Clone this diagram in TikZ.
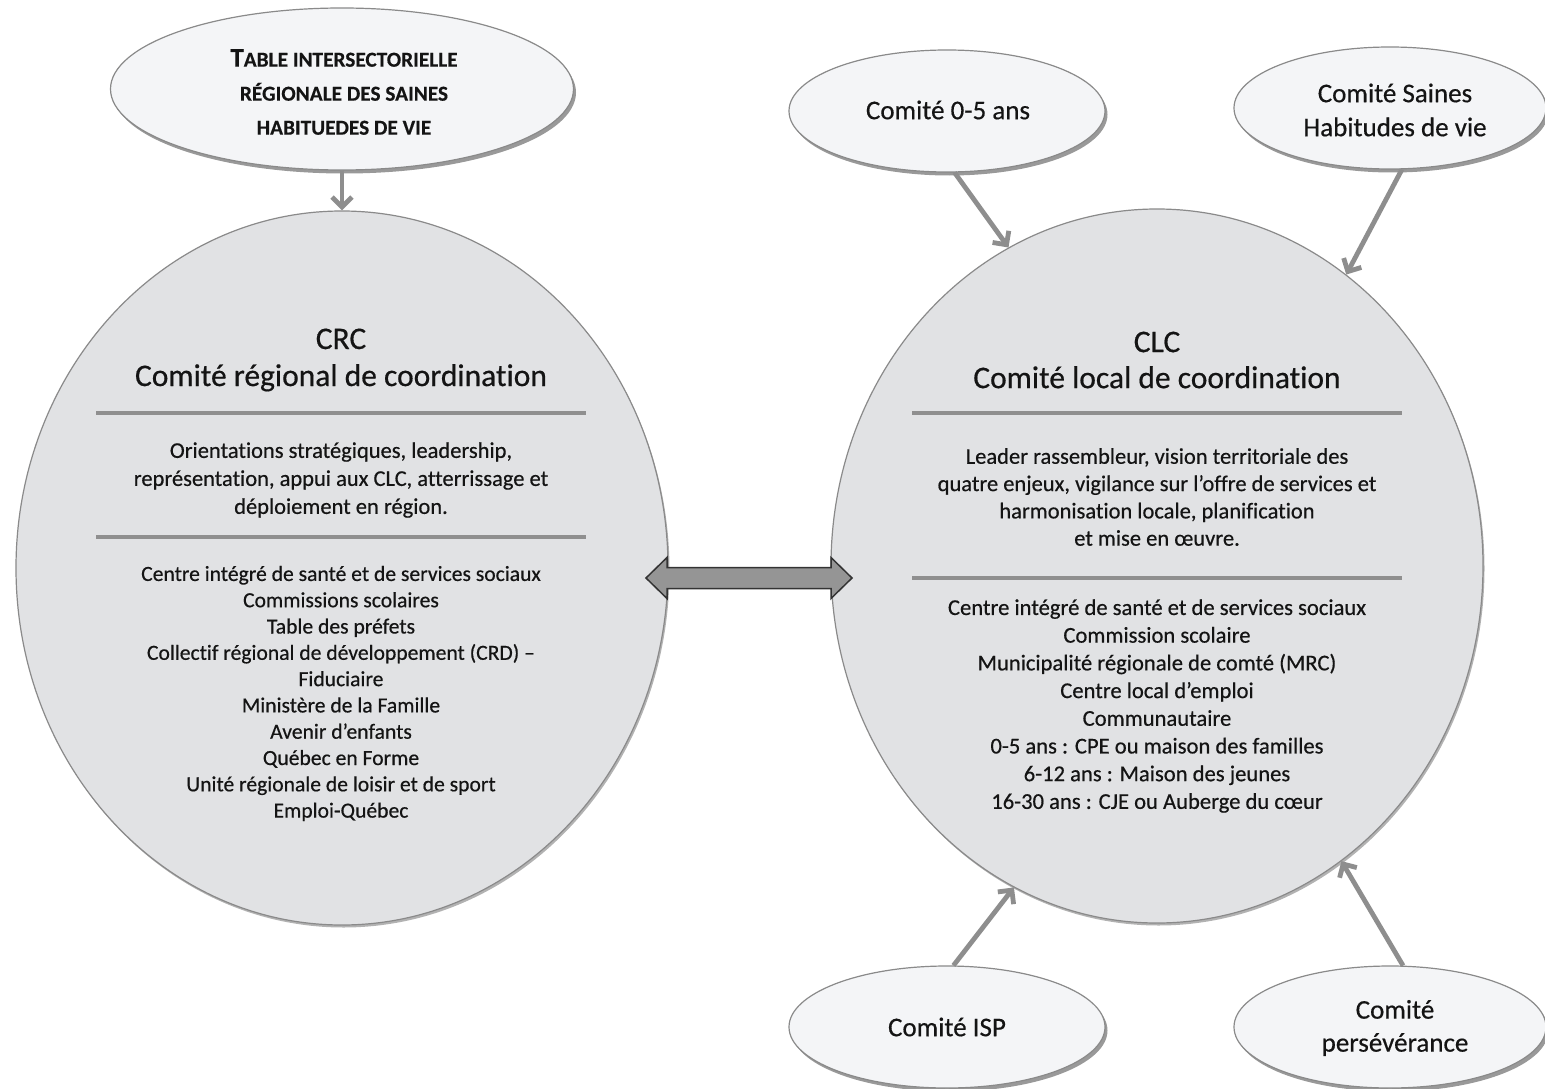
\documentclass[tikz,border=0pt]{standalone}
\usepackage{fontspec}
\setmainfont{Carlito}[Ligatures={NoCommon,NoContextual},FakeBold=0.5,BoldFeatures={FakeBold=0.3}]
\usetikzlibrary{shapes.geometric,arrows.meta,shadows}
\definecolor{bigfill}{HTML}{E1E2E4}
\definecolor{smallfill}{HTML}{F4F5F7}
\definecolor{edgecol}{HTML}{8A8A8A}
\definecolor{conncol}{HTML}{8E8E8E}
\definecolor{sepcol}{HTML}{8F8F8F}
\definecolor{txtcol}{HTML}{141414}
\definecolor{dblfill}{HTML}{959595}
\definecolor{dbledge}{HTML}{333333}
\begin{document}
\begin{tikzpicture}[x=1pt,y=-1pt,
  bigell/.style={ellipse, draw=edgecol, line width=1.2pt, fill=bigfill, inner sep=0pt,
    minimum width=652pt, minimum height=714pt,
    drop shadow={shadow xshift=1.5pt, shadow yshift=-2.5pt, opacity=0.3, fill=black}},
  smallell/.style={ellipse, draw=edgecol, line width=1.2pt, fill=smallfill, inner sep=0pt,
    minimum width=316pt, minimum height=122pt,
    drop shadow={shadow xshift=2.5pt, shadow yshift=-3.5pt, opacity=0.4, fill=black}},
  conn/.style={draw=conncol, line width=4.8pt, -{Straight Barb[length=10pt,width=20pt]}},
  sepline/.style={draw=sepcol, line width=4pt},
  txtnode/.style={text=txtcol, align=center, inner sep=0pt},
]
\fill[white] (0,0) rectangle (1545,1089);
\useasboundingbox (0,0) rectangle (1545,1089);

% big ellipses
\node[bigell] (crc) at (342,568) {};
\node[bigell] (clc) at (1157,566) {};

% small ellipses
\node[smallell, minimum width=463pt, minimum height=162pt] (top) at (342,89) {};
\node[smallell] (c05) at (947,111) {};
\node[smallell, minimum width=312pt] (shv) at (1390,108) {};
\node[smallell] (isp) at (947,1027) {};
\node[smallell, minimum width=312pt] (pers) at (1390,1027) {};

% texts of small ellipses
\node[txtnode, font=\bfseries\fontsize{21.3}{34}\selectfont] (toptxt) at (344,92)
  {{\fontsize{27}{34}\selectfont T}ABLE INTERSECTORIELLE\\RÉGIONALE DES SAINES\\HABITUEDES DE VIE};
\node[txtnode, font=\fontsize{27}{34}\selectfont] (c05txt) at (948,110) {Comité 0-5 ans};
\node[txtnode, font=\fontsize{27}{34}\selectfont] (shvtxt) at (1395,110) {Comité Saines\\Habitudes de vie};
\node[txtnode, font=\fontsize{27}{34}\selectfont] (isptxt) at (947,1027) {Comité ISP};
\node[txtnode, font=\fontsize{27}{33}\selectfont] (perstxt) at (1395,1028) {Comité\\persévérance};

% CRC contents
\node[txtnode, font=\fontsize{31.5}{37}\selectfont] (crctitle) at (341,360)
  {CRC\\Comité régional de coordination};
\draw[sepline] (96,413) -- (586,413);
\node[txtnode, font=\fontsize{22.5}{28}\selectfont] (crcpara) at (341,480)
  {Orientations stratégiques, leadership,\\représentation, appui aux CLC, atterrissage et\\déploiement en région.};
\draw[sepline] (96,537) -- (586,537);
\node[txtnode, font=\fontsize{21.6}{26.3}\selectfont] (crclist) at (341,693.5)
  {Centre intégré de santé et de services sociaux\\Commissions scolaires\\Table des préfets\\Collectif régional de développement (CRD) –\\Fiduciaire\\Ministère de la Famille\\Avenir d’enfants\\Québec en Forme\\Unité régionale de loisir et de sport\\Emploi-Québec};

% CLC contents
\node[txtnode, font=\fontsize{31.5}{36}\selectfont] (clctitle) at (1157,360)
  {CLC\\Comité local de coordination};
\draw[sepline] (912,413) -- (1402,413);
\node[txtnode, font=\fontsize{22.5}{27.3}\selectfont] (clcpara) at (1157,497)
  {Leader rassembleur, vision territoriale des\\quatre enjeux, vigilance sur l’offre de services et\\harmonisation locale, planification\\et mise en œuvre.};
\draw[sepline] (912,578) -- (1402,578);
\node[txtnode, font=\fontsize{22.6}{27.7}\selectfont] (clclist) at (1157,706)
  {Centre intégré de santé et de services sociaux\\Commission scolaire\\Municipalité régionale de comté (MRC)\\Centre local d’emploi\\Communautaire\\0-5 ans : CPE ou maison des familles\\6-12 ans : Maison des jeunes\\16-30 ans : CJE ou Auberge du cœur};

% connectors
\draw[conn] (top.south) -- (crc.north);
\draw[conn] (c05.-83) -- (clc.115.7);
\draw[conn] (shv.-79) -- (clc.57.9);
\draw[conn] (isp.84.5) -- (clc.246);
\draw[conn] (pers.78.7) -- (clc.-58.3);

% double arrow between CRC and CLC
\coordinate (dl) at (646,578);
\coordinate (dr) at (852,578);
\draw[draw=dbledge, fill=dblfill, line width=1.5pt, line join=miter]
  (dl) -- ++(21,-20.5) -- ++(0,10) -- ++(164,0) -- ++(0,-10) -- (dr)
  -- ++(-21,20.5) -- ++(0,-10) -- ++(-164,0) -- ++(0,10) -- cycle;
\end{tikzpicture}
\end{document}
